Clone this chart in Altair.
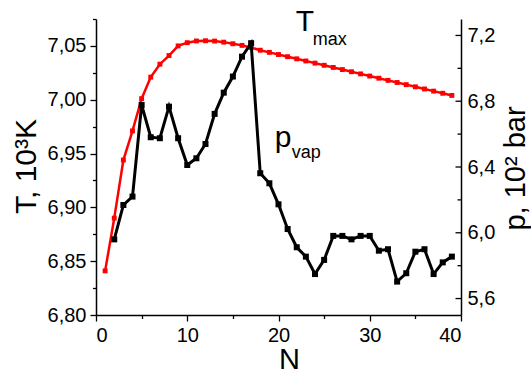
import altair as alt
import pandas as pd

# ---- data ----
N_T = list(range(1, 40))
T_max = [6.841, 6.890, 6.944, 6.971, 7.001, 7.021, 7.033, 7.041, 7.050, 7.053,
         7.0546, 7.0548, 7.0545, 7.0535, 7.052, 7.0505, 7.0485, 7.046, 7.044, 7.042,
         7.040, 7.038, 7.036, 7.034, 7.032, 7.030, 7.028, 7.026, 7.024, 7.022,
         7.020, 7.018, 7.016, 7.014, 7.012, 7.010, 7.008, 7.006, 7.004]

N_p = list(range(2, 40))
p_vap = [5.960, 6.169, 6.220, 6.777, 6.581, 6.575, 6.767, 6.575, 6.412, 6.453,
         6.540, 6.723, 6.852, 6.950, 7.071, 7.153, 6.362, 6.301, 6.173, 6.023,
         5.912, 5.855, 5.749, 5.835, 5.981, 5.981, 5.960, 5.981, 5.981, 5.891,
         5.900, 5.703, 5.754, 5.885, 5.900, 5.749, 5.820, 5.855]

x_ticks = [0, 5, 10, 15, 20, 25, 30, 35, 40]
T_ticks = [6.800, 6.825, 6.850, 6.875, 6.900, 6.925, 6.950, 6.975, 7.000, 7.025, 7.050, 7.075]
p_major = [5.6, 6.0, 6.4, 6.8, 7.2]
p_minor = [5.8, 6.2, 6.6, 7.0]

# annotation anchors (data coordinates)
T_lab = pd.DataFrame({"N": [21.9], "T": [7.0638], "txt": ["T"]})
T_sub = pd.DataFrame({"N": [23.75], "T": [7.0508], "txt": ["max"]})
p_lab = pd.DataFrame({"N": [19.6], "p": [6.523], "txt": ["p"]})
p_sub = pd.DataFrame({"N": [21.45], "p": [6.456], "txt": ["vap"]})

dfT = pd.DataFrame({"N": N_T, "T": T_max})
dfp = pd.DataFrame({"N": N_p, "p": p_vap})
df_pmaj = pd.DataFrame({"p": p_major})
df_pmin = pd.DataFrame({"p": p_minor})

FONT = "Liberation Sans"
W, H = 365, 296

x_scale = alt.Scale(domain=[0, 40], nice=False, zero=False)
T_scale = alt.Scale(domain=[6.8, 7.075], nice=False, zero=False)
p_scale = alt.Scale(domain=[5.5, 7.3], nice=False, zero=False)

x_axis = alt.Axis(
    values=x_ticks,
    labelExpr="datum.value % 10 === 0 ? datum.label : ''",
    tickSize={"condition": {"test": "datum.value % 10 !== 0", "value": 3.5}, "value": 6},
    title="N", titleX=193, titleY=53, titleAlign="center", titleBaseline="alphabetic",
    titleFontSize=29, titleFontWeight="normal", labelFontSize=20, labelPadding=4,
    grid=False,
)

T_axis = alt.Axis(
    orient="left",
    values=T_ticks,
    labelExpr="abs(datum.value*20 - round(datum.value*20)) < 0.001 ? replace(format(datum.value, '.2f'), '.', ',') : ''",
    tickSize={"condition": {"test": "abs(datum.value*20 - round(datum.value*20)) >= 0.001", "value": 3.5}, "value": 6},
    title="T, 10³K", titleAngle=270, titleX=-61, titleY=147, titleAlign="center",
    titleBaseline="alphabetic", titleFontSize=30, titleFontWeight="normal",
    labelFontSize=20, labelPadding=4, grid=False,
)

p_axis = alt.Axis(
    orient="right",
    values=p_major,
    labelExpr="replace(format(datum.value, '.1f'), '.', ',')",
    ticks=False, tickSize=0, labelPadding=6,
    title="p, 10² bar", titleAngle=270, titleX=63, titleY=149, titleAlign="center",
    titleBaseline="alphabetic", titleFontSize=29, titleFontWeight="normal",
    labelFontSize=20, grid=False,
)

X = alt.X("N:Q", scale=x_scale, axis=x_axis)

red = alt.Chart(dfT).mark_line(
    color="#ff0000", strokeWidth=2.5,
    point=alt.OverlayMarkDef(shape="square", size=24, filled=True, color="#ff0000"),
).encode(x=X, y=alt.Y("T:Q", scale=T_scale, axis=T_axis))

t1 = alt.Chart(T_lab).mark_text(align="left", baseline="alphabetic", font=FONT, fontSize=30, color="black").encode(
    x=X, y=alt.Y("T:Q", scale=T_scale, axis=T_axis), text="txt:N")
t2 = alt.Chart(T_sub).mark_text(align="left", baseline="alphabetic", font=FONT, fontSize=18, color="black").encode(
    x=X, y=alt.Y("T:Q", scale=T_scale, axis=T_axis), text="txt:N")

T_layer = alt.layer(red, t1, t2)

black = alt.Chart(dfp).mark_line(
    color="black", strokeWidth=3,
    point=alt.OverlayMarkDef(shape="square", size=36, filled=True, color="black"),
).encode(x=X, y=alt.Y("p:Q", scale=p_scale, axis=p_axis))

tk_maj = alt.Chart(df_pmaj).mark_rule(color="black", strokeWidth=1.3).encode(
    x=alt.value(W), x2=alt.value(W - 5.5), y=alt.Y("p:Q", scale=p_scale, axis=p_axis))
tk_min = alt.Chart(df_pmin).mark_rule(color="black", strokeWidth=1.3).encode(
    x=alt.value(W), x2=alt.value(W - 3.5), y=alt.Y("p:Q", scale=p_scale, axis=p_axis))

p1 = alt.Chart(p_lab).mark_text(align="left", baseline="alphabetic", font=FONT, fontSize=30, color="black").encode(
    x=X, y=alt.Y("p:Q", scale=p_scale, axis=p_axis), text="txt:N")
p2 = alt.Chart(p_sub).mark_text(align="left", baseline="alphabetic", font=FONT, fontSize=18, color="black").encode(
    x=X, y=alt.Y("p:Q", scale=p_scale, axis=p_axis), text="txt:N")

p_layer = alt.layer(black, tk_maj, tk_min, p1, p2)

chart = alt.layer(T_layer, p_layer).resolve_scale(y="independent").properties(
    width=W, height=H,
    autosize=alt.AutoSizeParams(type="none"),
    padding={"left": 96, "top": 19, "right": 70, "bottom": 58},
    background="white",
).configure_view(stroke=None).configure_axis(
    domainColor="black", domainWidth=1.5, tickColor="black", tickWidth=1.3,
    labelColor="black", titleColor="black", labelFont=FONT, titleFont=FONT,
)

chart.save("out.html", embed_options={"renderer": "svg", "actions": False})
